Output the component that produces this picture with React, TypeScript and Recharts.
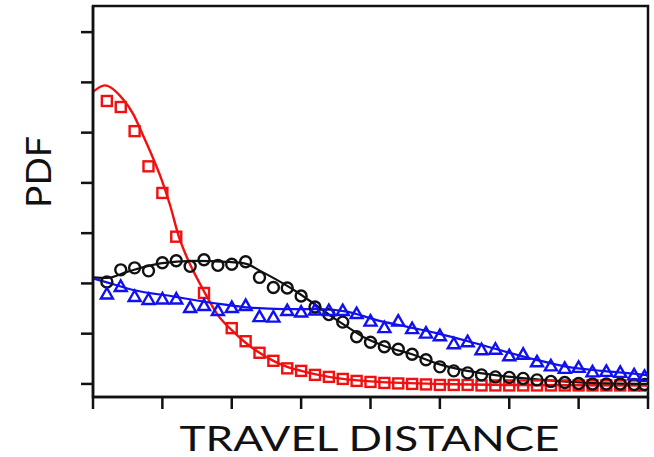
import React from 'react';
import {
  ComposedChart,
  Line,
  Scatter,
  XAxis,
  YAxis,
  ReferenceArea,
} from 'recharts';

const RED = '#f01010';
const BLUE = '#1010f0';
const BLACK = '#111111';

// grid of measurement positions (travel distance)
const redPointX = [0.2, 0.4, 0.6, 0.8, 1.0, 1.2, 1.6, 2.0, 2.2, 2.4, 2.6, 2.8, 3.0, 3.2, 3.4, 3.6, 3.8, 4.0, 4.2, 4.4, 4.6, 4.8, 5.0, 5.2, 5.4, 5.6, 5.8, 6.0, 6.2, 6.4, 6.6, 6.8, 7.0, 7.2, 7.4, 7.6, 7.8, 7.95];
const redPointY = [5.63, 5.51, 5.03, 4.33, 3.8, 2.93, 1.81, 1.11, 0.85, 0.62, 0.46, 0.31, 0.26, 0.18, 0.14, 0.1, 0.06, 0.04, 0.02, 0.01, 0.0, -0.01, -0.02, -0.02, -0.02, -0.03, -0.03, -0.03, -0.03, -0.03, -0.03, -0.03, -0.03, -0.03, -0.03, -0.03, -0.03, -0.03];

const gridX = [0.2, 0.4, 0.6, 0.8, 1.0, 1.2, 1.4, 1.6, 1.8, 2.0, 2.2, 2.4, 2.6, 2.8, 3.0, 3.2, 3.4, 3.6, 3.8, 4.0, 4.2, 4.4, 4.6, 4.8, 5.0, 5.2, 5.4, 5.6, 5.8, 6.0, 6.2, 6.4, 6.6, 6.8, 7.0, 7.2, 7.4, 7.6, 7.8, 7.95];
const blackPointY = [2.03, 2.27, 2.31, 2.25, 2.41, 2.45, 2.34, 2.47, 2.36, 2.38, 2.43, 2.12, 1.92, 1.91, 1.75, 1.53, 1.38, 1.23, 0.94, 0.83, 0.74, 0.69, 0.59, 0.48, 0.34, 0.26, 0.22, 0.18, 0.14, 0.13, 0.11, 0.08, 0.05, 0.03, 0.01, 0.0, 0.0, 0.0, -0.01, -0.01];
const bluePointY = [1.79, 1.94, 1.74, 1.68, 1.69, 1.69, 1.52, 1.56, 1.46, 1.52, 1.56, 1.34, 1.33, 1.46, 1.43, 1.47, 1.46, 1.46, 1.4, 1.25, 1.12, 1.25, 1.1, 1.01, 0.96, 0.8, 0.84, 0.68, 0.69, 0.56, 0.59, 0.44, 0.36, 0.31, 0.33, 0.24, 0.25, 0.23, 0.18, 0.15];

// fitted curves
const redFitX = [0, 0.17, 0.43, 0.58, 0.72, 0.86, 0.99, 1.11, 1.24, 1.35, 1.59, 1.8, 2.0, 2.2, 2.4, 2.6, 2.8, 3.0, 3.4, 4.0, 5.0, 6.0, 8.0];
const redFitY = [5.81, 5.94, 5.67, 5.37, 4.95, 4.51, 4.06, 3.56, 2.92, 2.53, 1.87, 1.37, 1.07, 0.82, 0.62, 0.46, 0.34, 0.26, 0.14, 0.05, 0.0, -0.02, -0.03];

const blackFitX = [0, 0.2, 0.49, 0.97, 1.45, 1.93, 2.21, 2.41, 2.65, 2.94, 3.17, 3.41, 3.66, 3.89, 4.23, 4.62, 4.95, 5.29, 5.72, 6.15, 6.59, 7.16, 8.0];
const blackFitY = [2.12, 2.11, 2.23, 2.4, 2.45, 2.43, 2.39, 2.25, 2.07, 1.83, 1.61, 1.37, 1.14, 0.94, 0.74, 0.58, 0.41, 0.29, 0.19, 0.12, 0.07, 0.02, 0.0];

const blueFitX = [0, 0.25, 0.58, 1.16, 1.78, 2.17, 2.74, 3.27, 3.66, 4.09, 4.52, 4.95, 5.38, 5.82, 6.39, 6.84, 7.33, 7.95, 8.0];
const blueFitY = [2.1, 2.0, 1.87, 1.74, 1.6, 1.53, 1.49, 1.49, 1.44, 1.27, 1.14, 1.01, 0.86, 0.69, 0.48, 0.34, 0.26, 0.18, 0.17];

const xTicks = [0, 1, 2, 3, 4, 5, 6, 7, 8];
const yTicks = [0, 1, 2, 3, 4, 5, 6, 7];

const X_DOMAIN = [0, 8];
const Y_DOMAIN = [-0.26, 7.52];

const zip = (xs: number[], ys: number[]) => xs.map((x, i) => ({ x, y: ys[i] }));

const redPoints = zip(redPointX, redPointY);
const blackPoints = zip(gridX, blackPointY);
const bluePoints = zip(gridX, bluePointY);
const redFit = zip(redFitX, redFitY);
const blackFit = zip(blackFitX, blackFitY);
const blueFit = zip(blueFitX, blueFitY);

const FONT = 'Lato, "DejaVu Sans", sans-serif';

const SquareMark = (props: any) => {
  const { cx, cy } = props;
  return <rect x={cx - 5} y={cy - 5} width={10} height={10} fill="none" stroke={RED} strokeWidth={2.4} />;
};

const CircleMark = (props: any) => {
  const { cx, cy } = props;
  return <circle cx={cx} cy={cy} r={5.5} fill="none" stroke={BLACK} strokeWidth={2.4} />;
};

const TriangleMark = (props: any) => {
  const { cx, cy } = props;
  const pts = `${cx},${cy - 6} ${cx - 6},${cy + 4.5} ${cx + 6},${cy + 4.5}`;
  return <polygon points={pts} fill="none" stroke={BLUE} strokeWidth={2.4} strokeLinejoin="miter" />;
};

// tick labels are not shown in the figure, only the tick marks
const NoLabel = () => <g />;

export default function App() {
  return (
    <div style={{ position: 'absolute', left: 0, top: 0, width: 654, height: 457, background: '#fff' }}>
      <ComposedChart width={654} height={457} margin={{ top: 6, right: 6, bottom: 0, left: 0 }}>
        <XAxis
          dataKey="x"
          type="number"
          domain={X_DOMAIN}
          ticks={xTicks}
          tick={NoLabel}
          tickSize={12}
          height={60}
          allowDataOverflow
          axisLine={{ stroke: BLACK, strokeWidth: 2.5 }}
          tickLine={{ stroke: BLACK, strokeWidth: 2.5 }}
          label={{
            content: (p: any) => {
              const vb = p.viewBox;
              return (
                <text
                  x={vb.x + vb.width / 2 - 1}
                  y={vb.y + 54}
                  textAnchor="middle"
                  fontFamily={FONT}
                  fontSize={34}
                  fill={BLACK}
                  textLength={380}
                  lengthAdjust="spacingAndGlyphs"
                >
                  TRAVEL DISTANCE
                </text>
              );
            },
          }}
        />
        <YAxis
          type="number"
          domain={Y_DOMAIN}
          ticks={yTicks}
          tick={NoLabel}
          tickSize={12}
          width={93}
          allowDataOverflow
          axisLine={{ stroke: BLACK, strokeWidth: 2.5 }}
          tickLine={{ stroke: BLACK, strokeWidth: 2.5 }}
          label={{
            content: () => (
              <text
                x={51}
                y={172}
                transform="rotate(-90, 51, 172)"
                textAnchor="middle"
                fontFamily={FONT}
                fontSize={35}
                fill={BLACK}
                textLength={72}
                lengthAdjust="spacingAndGlyphs"
              >
                PDF
              </text>
            ),
          }}
        />
        <ReferenceArea
          x1={X_DOMAIN[0]}
          x2={X_DOMAIN[1]}
          y1={Y_DOMAIN[0]}
          y2={Y_DOMAIN[1]}
          fill="none"
          fillOpacity={0}
          stroke={BLACK}
          strokeWidth={2.5}
          ifOverflow="extendDomain"
        />
        <Line data={redFit} dataKey="y" type="monotone" stroke={RED} strokeWidth={2.4} dot={false} isAnimationActive={false} />
        <Line data={blackFit} dataKey="y" type="monotone" stroke={BLACK} strokeWidth={2.2} dot={false} isAnimationActive={false} />
        <Line data={blueFit} dataKey="y" type="monotone" stroke={BLUE} strokeWidth={2.2} dot={false} isAnimationActive={false} />
        <Scatter data={redPoints} dataKey="y" shape={SquareMark} isAnimationActive={false} />
        <Scatter data={blackPoints} dataKey="y" shape={CircleMark} isAnimationActive={false} />
        <Scatter data={bluePoints} dataKey="y" shape={TriangleMark} isAnimationActive={false} />
      </ComposedChart>
    </div>
  );
}
